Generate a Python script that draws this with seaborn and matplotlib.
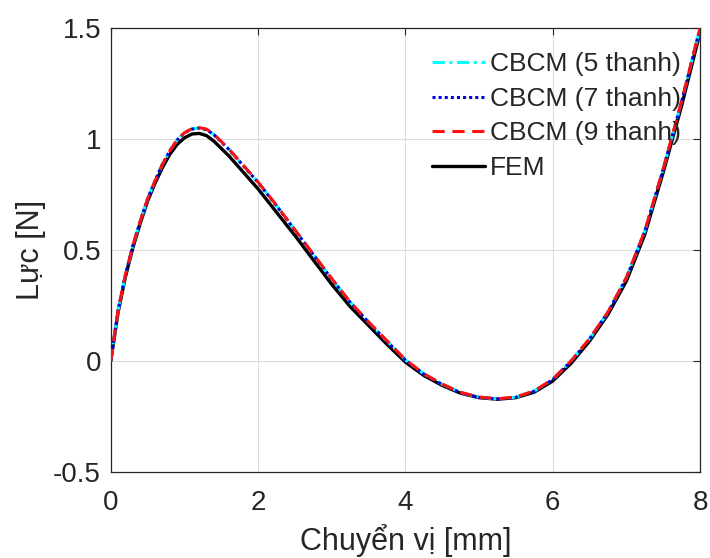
import numpy as np
import pandas as pd
import matplotlib
matplotlib.use("Agg")
import matplotlib.pyplot as plt
import seaborn as sns

# displacement [mm] sample points
disp = [0, 0.1, 0.2, 0.3, 0.4, 0.5, 0.6, 0.7, 0.8, 0.9, 1.0, 1.1, 1.2, 1.3, 1.4,
        1.6, 1.8, 2.0, 2.25, 2.5, 2.75, 3.0, 3.25, 3.5, 3.75, 4.0, 4.25, 4.5,
        4.75, 5.0, 5.25, 5.5, 5.75, 6.0, 6.25, 6.5, 6.75, 7.0, 7.25, 7.5, 7.75, 8.0]

# force [N]
fem = [0, 0.22, 0.38, 0.51, 0.62, 0.72, 0.80, 0.87, 0.93, 0.975, 1.005, 1.022, 1.025,
       1.015, 0.99, 0.925, 0.85, 0.775, 0.67, 0.565, 0.455, 0.345, 0.245, 0.16, 0.075,
       -0.005, -0.065, -0.11, -0.145, -0.165, -0.172, -0.165, -0.14, -0.09, -0.01,
       0.09, 0.21, 0.36, 0.57, 0.85, 1.15, 1.48]

cbcm5 = [0, 0.23, 0.39, 0.52, 0.63, 0.73, 0.81, 0.885, 0.945, 0.995, 1.028, 1.045, 1.05,
         1.043, 1.02, 0.955, 0.88, 0.805, 0.70, 0.59, 0.48, 0.37, 0.265, 0.175, 0.09,
         0.005, -0.058, -0.105, -0.142, -0.163, -0.171, -0.163, -0.135, -0.083, -0.0,
         0.10, 0.22, 0.375, 0.585, 0.865, 1.17, 1.50]

cbcm7 = [0, 0.23, 0.39, 0.52, 0.63, 0.73, 0.81, 0.885, 0.945, 0.995, 1.027, 1.044, 1.049,
         1.042, 1.019, 0.954, 0.879, 0.804, 0.699, 0.589, 0.479, 0.369, 0.264, 0.174, 0.089,
         0.004, -0.059, -0.106, -0.143, -0.164, -0.171, -0.164, -0.136, -0.084, -0.001,
         0.099, 0.219, 0.374, 0.584, 0.864, 1.168, 1.50]

cbcm9 = [0, 0.23, 0.39, 0.52, 0.63, 0.73, 0.81, 0.885, 0.945, 0.995, 1.028, 1.046, 1.051,
         1.044, 1.021, 0.956, 0.881, 0.806, 0.701, 0.591, 0.481, 0.371, 0.266, 0.176, 0.091,
         0.006, -0.057, -0.104, -0.141, -0.162, -0.170, -0.162, -0.134, -0.082, 0.001,
         0.101, 0.221, 0.376, 0.586, 0.866, 1.171, 1.50]

sns.set_theme(style="white")
plt.rcParams["font.family"] = ["Liberation Sans", "DejaVu Sans"]
plt.rcParams["axes.linewidth"] = 0.9

fig = plt.figure(figsize=(7.1, 5.58), dpi=100)
ax = fig.add_axes([0.156, 0.154, 0.83, 0.796])

df = pd.DataFrame({"x": disp, "fem": fem, "c5": cbcm5, "c7": cbcm7, "c9": cbcm9})

sns.lineplot(data=df, x="x", y="fem", color="black", lw=2.4, ax=ax,
             label="FEM", sort=False, zorder=2)
sns.lineplot(data=df, x="x", y="c5", color="#00FFFF", lw=2.2, ax=ax,
             label="CBCM (5 thanh)", sort=False, zorder=3,
             linestyle=(0, (4, 1.5, 1, 1.5)))
sns.lineplot(data=df, x="x", y="c7", color="#0000DD", lw=2.2, ax=ax,
             label="CBCM (7 thanh)", sort=False, zorder=4, linestyle=(0, (1, 1)))
sns.lineplot(data=df, x="x", y="c9", color="#FF1010", lw=2.2, ax=ax,
             label="CBCM (9 thanh)", sort=False, zorder=5, linestyle=(0, (4, 2.5)))

ax.set_xlim(0, 8)
ax.set_ylim(-0.5, 1.5)
ax.set_xticks([0, 2, 4, 6, 8])
ax.set_yticks([-0.5, 0, 0.5, 1, 1.5])
ax.set_yticklabels(["-0.5", "0", "0.5", "1", "1.5"])
ax.grid(True, color="#dcdcdc", lw=0.8)
ax.set_axisbelow(True)
for s in ax.spines.values():
    s.set_color("#262626")
ax.tick_params(direction="in", top=True, right=True, length=5, width=0.8,
               labelsize=20, colors="#262626")
ax.tick_params(axis="x", pad=13)
ax.tick_params(axis="y", pad=7)

ax.set_xlabel("Chuyển vị [mm]", fontsize=22, color="#262626", labelpad=6)
ax.set_ylabel("Lực [N]", fontsize=22, color="#262626", labelpad=5)

handles, labels = ax.get_legend_handles_labels()
order = [1, 2, 3, 0]
ax.legend([handles[i] for i in order], [labels[i] for i in order],
          loc="upper left", bbox_to_anchor=(0.545, 0.945), frameon=False,
          fontsize=19, handlelength=2.0, handletextpad=0.2, labelspacing=0.4,
          borderpad=0, borderaxespad=0)

fig.savefig("out.png", dpi=100)
